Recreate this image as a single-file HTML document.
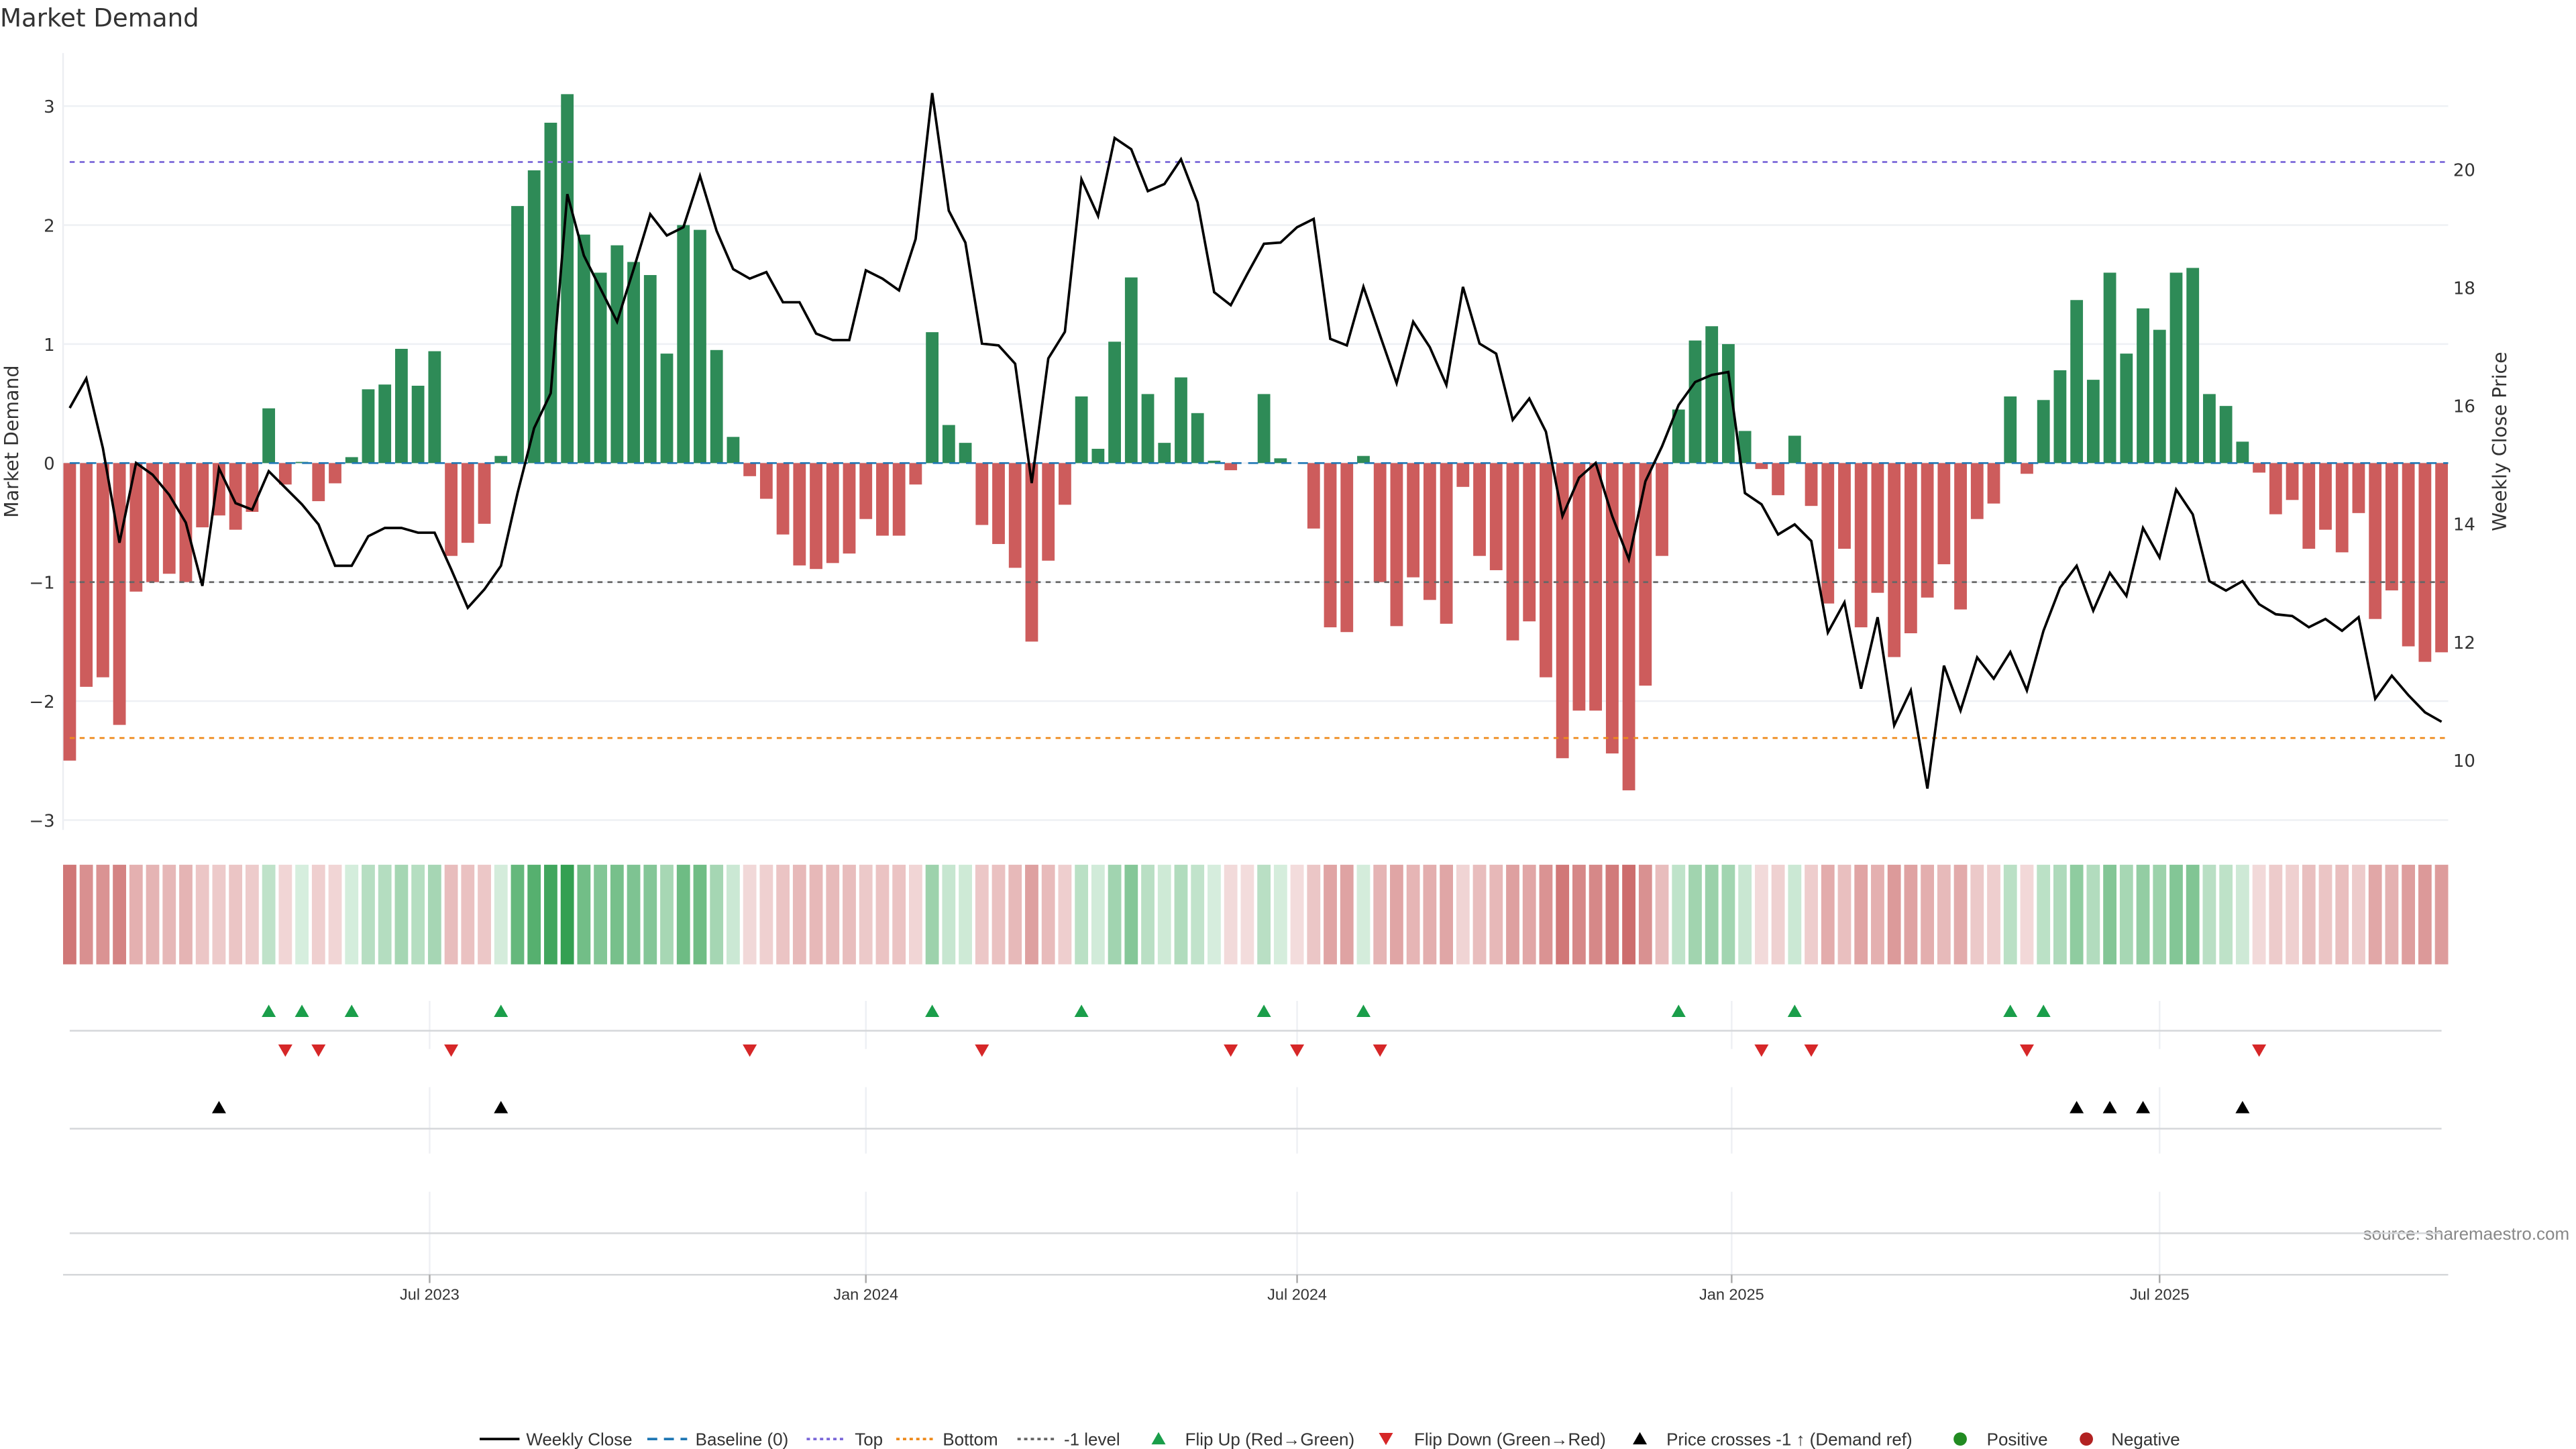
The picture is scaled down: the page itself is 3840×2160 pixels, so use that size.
<!DOCTYPE html>
<html><head><meta charset="utf-8"><title>Market Demand</title>
<style>
html,body{margin:0;padding:0;background:#fff;}
svg{display:block;font-family:"Liberation Sans","DejaVu Sans",sans-serif;}
.dv{font-family:"DejaVu Sans","Liberation Sans",sans-serif;}
</style></head>
<body>
<svg id="chart" width="3840" height="2160" viewBox="0 0 1552 873" xmlns="http://www.w3.org/2000/svg">
<text class="dv" x="0" y="16" font-size="15" fill="#333">Market Demand</text>
<text class="dv" transform="translate(11,266) rotate(-90)" text-anchor="middle" font-size="11.5" fill="#333">Market Demand</text>
<text class="dv" transform="translate(1510,266) rotate(-90)" text-anchor="middle" font-size="11.5" fill="#333">Weekly Close Price</text>
<text x="1548" y="747" text-anchor="end" font-size="10.5" fill="#888">source: sharemaestro.com</text>
<g id="grid"></g><g id="bars"></g><g id="overlay"></g><g id="strip"></g><g id="markers"></g><g id="legend"></g>
</svg>
<script>
const demand = [-2.5,-1.88,-1.8,-2.2,-1.08,-1.0,-0.93,-1.0,-0.54,-0.44,-0.56,-0.41,0.46,-0.18,0.01,-0.32,-0.17,0.05,0.62,0.66,0.96,0.65,0.94,-0.78,-0.67,-0.51,0.06,2.16,2.46,2.86,3.1,1.92,1.6,1.83,1.69,1.58,0.92,2.0,1.96,0.95,0.22,-0.11,-0.3,-0.6,-0.86,-0.89,-0.84,-0.76,-0.47,-0.61,-0.61,-0.18,1.1,0.32,0.17,-0.52,-0.68,-0.88,-1.5,-0.82,-0.35,0.56,0.12,1.02,1.56,0.58,0.17,0.72,0.42,0.02,-0.06,0,0.58,0.04,0,-0.55,-1.38,-1.42,0.06,-1.0,-1.37,-0.96,-1.15,-1.35,-0.2,-0.78,-0.9,-1.49,-1.33,-1.8,-2.48,-2.08,-2.08,-2.44,-2.75,-1.87,-0.78,0.45,1.03,1.15,1.0,0.27,-0.05,-0.27,0.23,-0.36,-1.18,-0.72,-1.38,-1.09,-1.63,-1.43,-1.13,-0.85,-1.23,-0.47,-0.34,0.56,-0.09,0.53,0.78,1.37,0.7,1.6,0.92,1.3,1.12,1.6,1.64,0.58,0.48,0.18,-0.08,-0.43,-0.31,-0.72,-0.56,-0.75,-0.42,-1.31,-1.07,-1.54,-1.67,-1.59];
const price = [15.96,16.46,15.28,13.68,15.03,14.83,14.49,14.02,12.95,14.94,14.35,14.24,14.89,14.61,14.33,13.99,13.29,13.29,13.79,13.93,13.93,13.85,13.85,13.23,12.58,12.89,13.29,14.52,15.62,16.21,19.58,18.54,17.98,17.42,18.31,19.24,18.88,19.02,19.89,18.96,18.31,18.15,18.26,17.75,17.75,17.22,17.11,17.11,18.29,18.15,17.95,18.82,21.29,19.3,18.76,17.05,17.02,16.71,14.69,16.8,17.25,19.83,19.21,20.53,20.34,19.63,19.75,20.17,19.44,17.92,17.7,18.23,18.74,18.76,19.02,19.16,17.13,17.02,18.01,17.19,16.38,17.42,16.99,16.35,18.01,17.05,16.88,15.76,16.12,15.56,14.13,14.78,15.03,14.13,13.4,14.72,15.31,16.01,16.4,16.52,16.57,14.52,14.33,13.82,13.99,13.71,12.16,12.67,11.21,12.42,10.59,11.18,9.52,11.6,10.84,11.74,11.38,11.83,11.18,12.19,12.92,13.29,12.53,13.17,12.78,13.93,13.43,14.58,14.16,13.03,12.87,13.03,12.64,12.47,12.44,12.25,12.39,12.19,12.42,11.04,11.43,11.1,10.81,10.65];
const leftTicks = [3,2,1,0,-1,-2,-3];
const rightTicks = [20,18,16,14,12,10];
const dateLabels = ["Jul 2023","Jan 2024","Jul 2024","Jan 2025","Jul 2025"];
const dateIdx = [21.7,48.0,74.0,100.2,126.0];
const topLevel = 2.53, bottomLevel = -2.31, minusLevel = -1;
const crossPriceLevel = 13.0;

const NS="http://www.w3.org/2000/svg";
function mk(parent,tag,attrs,text){const e=document.createElementNS(NS,tag);for(const k in attrs)e.setAttribute(k,attrs[k]);if(text!==undefined)e.textContent=text;parent.appendChild(e);return e;}
const n=demand.length;
const X0=42,X1=1471;
function xOf(i){return X0+i*(X1-X0)/(n-1);}
function yL(v){return 279-v*71.7;}
function yR(p){return 458-(p-10)*35.6;}
const grid=document.getElementById('grid'),bars=document.getElementById('bars'),ov=document.getElementById('overlay'),strip=document.getElementById('strip'),mkG=document.getElementById('markers'),lg=document.getElementById('legend');

let e=mk(grid,'line',{x1:38,x2:38,y1:32,y2:500,stroke:'#eceef2','stroke-width':1});

leftTicks.forEach(t=>{
  let g=mk(grid,'line',{x1:38,x2:1475,y1:yL(t),y2:yL(t),stroke:'#eef0f4','stroke-width':1});
  
  let lab=mk(grid,'text',{x:33,y:yL(t)+4,'text-anchor':'end','font-size':'10.5',fill:'#333','class':'dv'},t<0?'\u2212'+Math.abs(t):String(t));
  
});
rightTicks.forEach(t=>{
  let lab=mk(grid,'text',{x:1478,y:yR(t)+4,'font-size':'10.5',fill:'#333','class':'dv'},String(t));
  
});
const bw=7.6;
demand.forEach((v,i)=>{
  const y=yL(Math.max(v,0)),h=Math.abs(yL(v)-yL(0));
  let r=mk(bars,'rect',{x:xOf(i)-bw/2,y:y,width:bw,height:Math.max(h,0.01),fill:v>0?'#2e8b57':'#cd5c5c'});
  
});
function hline(v,color,dash,name){let l=mk(ov,'line',{x1:42,x2:1475,y1:yL(v),y2:yL(v),stroke:color,'stroke-width':1.1,'stroke-dasharray':dash});}
hline(0,'#1f77b4','6 4','baseline-line');
hline(topLevel,'#7b68d9','3 3','top-line');
hline(bottomLevel,'#ee8a1c','3 3','bottom-line');
hline(minusLevel,'#666','3 3','minus-one-level-line');
let pts=price.map((p,i)=>xOf(i).toFixed(2)+','+yR(p).toFixed(2)).join(' ');
let pl=mk(ov,'polyline',{points:pts,fill:'none',stroke:'#000','stroke-width':1.5,'stroke-linejoin':'miter'});

const cw=8;
demand.forEach((v,i)=>{
  const t=Math.min(Math.abs(v)/3.1,1);
  let c;
  if(v>0){c=[215-(215-52)*t,238-(238-160)*t,222-(222-82)*t];}
  else{c=[243-(243-200)*t,220-(220-95)*t,220-(220-95)*t];}
  let r=mk(strip,'rect',{x:xOf(i)-cw/2,y:521,width:cw,height:60,fill:'rgb('+c.map(Math.round).join(',')+')'});
  
});
[[603,632],[655,695],[718,768]].forEach(seg=>{
  dateIdx.forEach(d=>{let l=mk(mkG,'line',{x1:xOf(d),x2:xOf(d),y1:seg[0],y2:seg[1],stroke:'#eef0f4','stroke-width':1});});
});
[621,680,743].forEach(y=>{let l=mk(mkG,'line',{x1:42,x2:1471,y1:y,y2:y,stroke:'#d5d7da','stroke-width':1});});
let ax=mk(mkG,'line',{x1:38,x2:1475,y1:768,y2:768,stroke:'#d5d7da','stroke-width':1});

dateIdx.forEach((d,k)=>{
  let tk=mk(mkG,'line',{x1:xOf(d),x2:xOf(d),y1:768,y2:773,stroke:'#aaa','stroke-width':1});
  
  let lab=mk(mkG,'text',{x:xOf(d),y:783,'text-anchor':'middle','font-size':'9.5',fill:'#333'},dateLabels[k]);
  
});
function tri(parent,x,y,up,color,s){const h=s*0.87;const p=up?`${x-s/2},${y+h/2} ${x+s/2},${y+h/2} ${x},${y-h/2}`:`${x-s/2},${y-h/2} ${x+s/2},${y-h/2} ${x},${y+h/2}`;return mk(parent,'polygon',{points:p,fill:color});}
for(let i=1;i<n;i++){
  const a=demand[i-1]>0,b=demand[i]>0;
  if(!a&&b){let t=tri(mkG,xOf(i),609,true,'#1a9e4a',8.5);}
  if(a&&!b){let t=tri(mkG,xOf(i),633,false,'#d62728',8.5);}
  if(price[i-1]<crossPriceLevel&&price[i]>=crossPriceLevel){let t=tri(mkG,xOf(i),667,true,'#000',8.5);}
}
const ly=867;
function ltext(x,s){let t=mk(lg,'text',{x:x,y:ly+3.7,'font-size':'10.5',fill:'#333'},s);}
function lline(x,color,dash,w){let l=mk(lg,'line',{x1:x,x2:x+24,y1:ly,y2:ly,stroke:color,'stroke-width':w,'stroke-dasharray':dash});}
lline(289,'#000','none',1.5);ltext(317,'Weekly Close');
lline(390,'#1f77b4','6 4',1.5);ltext(419,'Baseline (0)');
lline(486,'#7b68d9','2 2',1.5);ltext(515,'Top');
lline(540,'#ee8a1c','2 2',1.5);ltext(568,'Bottom');
lline(613,'#666','2 2',1.5);ltext(641,'-1 level');
let t1=tri(lg,698,ly-0.5,true,'#1a9e4a',8.5);ltext(714,'Flip Up (Red\u2192Green)');
let t2=tri(lg,835,ly,false,'#d62728',8.5);ltext(852,'Flip Down (Green\u2192Red)');
let t3=tri(lg,988,ly-0.5,true,'#000',8.5);ltext(1004,'Price crosses -1 \u2191 (Demand ref)');
let c1=mk(lg,'circle',{cx:1181,cy:ly,r:4,fill:'#228b22'});ltext(1197,'Positive');
let c2=mk(lg,'circle',{cx:1257,cy:ly,r:4,fill:'#b22222'});ltext(1272,'Negative');
</script>
</body></html>
